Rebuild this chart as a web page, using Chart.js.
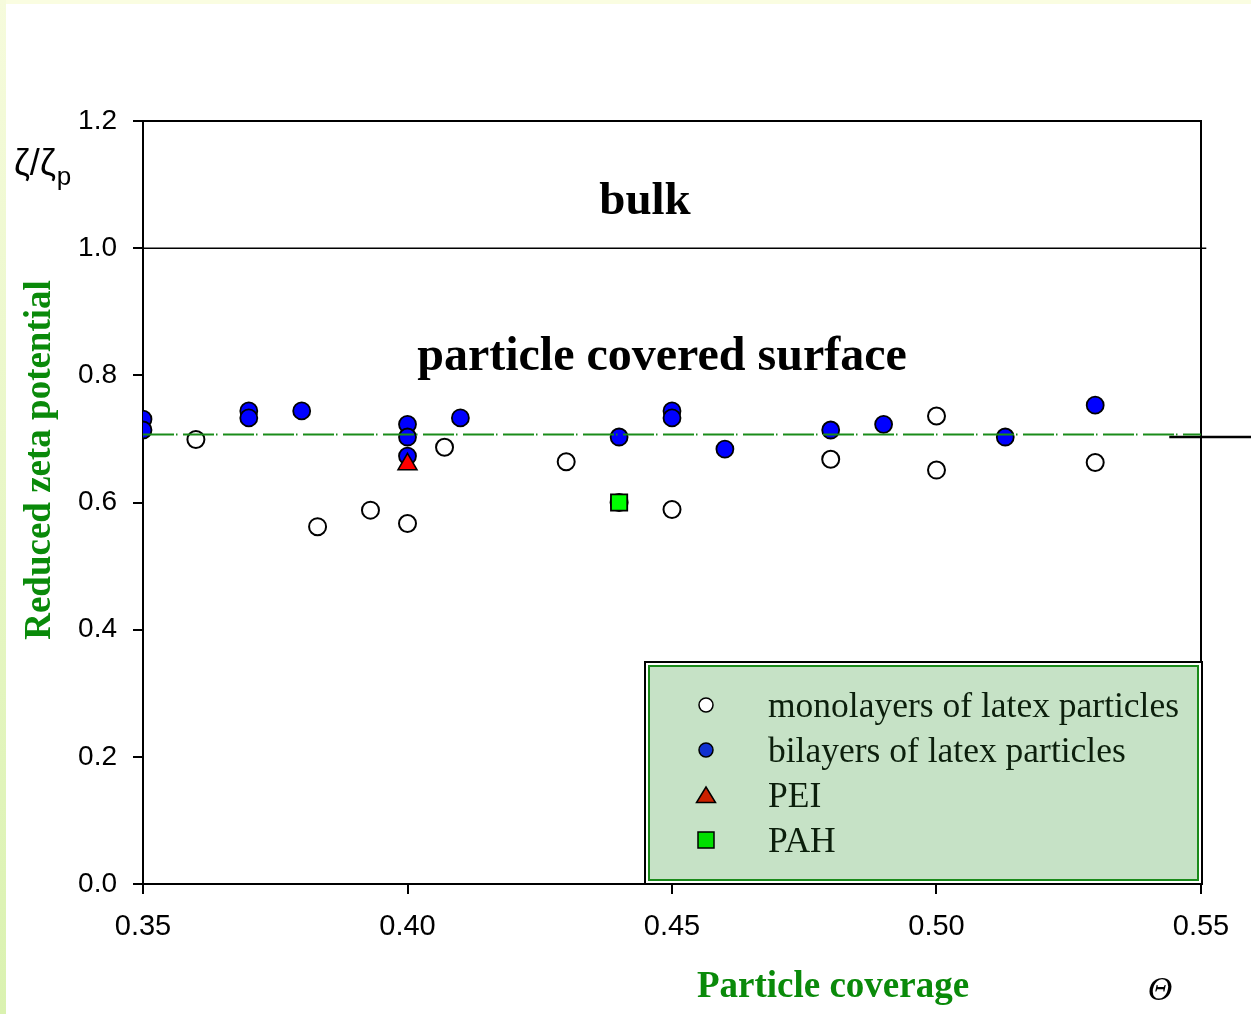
<!DOCTYPE html>
<html>
<head>
<meta charset="utf-8">
<title>Reduced zeta potential vs particle coverage</title>
<script src="https://cdn.jsdelivr.net/npm/chart.js@4/dist/chart.umd.min.js"></script>
<style>
  html, body { margin: 0; padding: 0; background: #ffffff; }
  #wrap { position: absolute; left: 0; top: 0; width: 1251px; height: 1014px; }
</style>
</head>
<body>
<div id="wrap"><canvas id="chart" width="1251" height="1014"></canvas></div>
<script>
// Monolayers of latex particles (open circles)
const monoX = [0.36, 0.383, 0.393, 0.40, 0.407, 0.43, 0.44, 0.45, 0.48, 0.50, 0.50, 0.53];
const monoY = [0.699, 0.562, 0.588, 0.567, 0.687, 0.664, 0.600, 0.589, 0.668, 0.736, 0.651, 0.663];

// Bilayers of latex particles (blue circles)
const biX = [0.35, 0.35, 0.37, 0.37, 0.38, 0.40, 0.40, 0.40, 0.41, 0.44, 0.45, 0.45, 0.46, 0.48, 0.49, 0.513, 0.53];
const biY = [0.731, 0.714, 0.744, 0.733, 0.744, 0.723, 0.703, 0.673, 0.733, 0.703, 0.744, 0.733, 0.684, 0.714, 0.723, 0.703, 0.753];

// Polyelectrolyte reference points
const peiX = [0.40];
const peiY = [0.66];
const pahX = [0.44];
const pahY = [0.60];

// Theoretical level for a particle covered surface, bulk level, and the edge marker
const refX = [0.35, 0.55];
const refY = [0.707, 0.707];
const bulkX = [0.35, 0.551];
const bulkY = [1.0, 1.0];
const edgeX = [0.544, 0.56];
const edgeY = [0.703, 0.703];

// Axis ticks
const xTicks = [0.35, 0.40, 0.45, 0.50, 0.55];
const xTickLabels = ['0.35', '0.40', '0.45', '0.50', '0.55'];
const yTicks = [0.0, 0.2, 0.4, 0.6, 0.8, 1.0, 1.2];
const yTickLabels = ['0.0', '0.2', '0.4', '0.6', '0.8', '1.0', '1.2'];

// Series labels
const seriesLabels = ['monolayers of latex particles', 'bilayers of latex particles', 'PEI', 'PAH'];

const zip = (xs, ys) => xs.map((x, i) => ({ x: x, y: ys[i] }));

const SERIF = '"Liberation Serif", "Times New Roman", serif';
const SANS = '"Liberation Sans", Arial, sans-serif';
const TITLE_GREEN = '#0a8a0a';

// Page background: pale strips along the top and left edges
const backgroundPlugin = {
  id: 'pageBackground',
  beforeDraw(chart) {
    const ctx = chart.ctx;
    const w = chart.width, h = chart.height;
    ctx.save();
    ctx.fillStyle = '#ffffff';
    ctx.fillRect(0, 0, w, h);
    ctx.fillStyle = '#fafde1';
    ctx.fillRect(0, 0, w, 4);
    const g = ctx.createLinearGradient(0, 0, 0, h);
    g.addColorStop(0, '#f6fbdc');
    g.addColorStop(1, '#daf2b0');
    ctx.fillStyle = g;
    ctx.fillRect(0, 0, 6, h);
    ctx.restore();
  }
};

// Top and right sides of the plot frame
const framePlugin = {
  id: 'plotFrame',
  beforeDatasetsDraw(chart) {
    const { ctx, chartArea: a } = chart;
    ctx.save();
    ctx.strokeStyle = '#000';
    ctx.lineWidth = 2;
    ctx.beginPath();
    ctx.moveTo(a.left, a.top);
    ctx.lineTo(a.right, a.top);
    ctx.lineTo(a.right, a.bottom);
    ctx.stroke();
    ctx.restore();
  }
};

// Region labels, axis titles and the symbol labels
const textPlugin = {
  id: 'chartTexts',
  afterDraw(chart) {
    const { ctx, chartArea: a } = chart;
    ctx.save();
    ctx.fillStyle = '#000';
    ctx.textAlign = 'center';
    ctx.textBaseline = 'alphabetic';
    ctx.font = 'bold 47px ' + SERIF;
    ctx.fillText('bulk', a.left + 502, a.top + 93);
    ctx.font = 'bold 48px ' + SERIF;
    ctx.fillText('particle covered surface', a.left + 519, a.top + 249);

    // y-axis title
    ctx.fillStyle = TITLE_GREEN;
    ctx.font = 'bold 37px ' + SERIF;
    ctx.save();
    ctx.translate(50, a.top + 339);
    ctx.rotate(-Math.PI / 2);
    ctx.fillText('Reduced zeta potential', 0, 0);
    ctx.restore();

    // x-axis title
    ctx.fillText('Particle coverage', a.left + 690, a.bottom + 113);

    // Θ symbol
    ctx.fillStyle = '#000';
    ctx.font = 'italic 34px ' + SERIF;
    ctx.fillText('\u0398', a.left + 1017, a.bottom + 116);

    // ζ/ζp
    ctx.textAlign = 'left';
    ctx.font = '36px ' + SANS;
    ctx.fillText('\u03B6/\u03B6', 14, a.top + 54);
    const w = ctx.measureText('\u03B6/\u03B6').width;
    ctx.font = '26px ' + SANS;
    ctx.fillText('p', 14 + w + 1, a.top + 64);
    ctx.restore();
  }
};

// Boxed legend in the lower right of the plot
const legendPlugin = {
  id: 'boxLegend',
  afterDraw(chart) {
    const { ctx, chartArea: a } = chart;
    const x0 = a.left + 502, y0 = a.top + 541;
    const x1 = a.right + 1, y1 = a.bottom;
    ctx.save();
    ctx.strokeStyle = '#000';
    ctx.lineWidth = 2;
    ctx.fillStyle = '#ffffff';
    ctx.fillRect(x0, y0, x1 - x0, y1 - y0);
    ctx.strokeRect(x0, y0, x1 - x0, y1 - y0);
    ctx.fillStyle = '#c6e2c6';
    ctx.fillRect(x0 + 4, y0 + 4, x1 - x0 - 8, y1 - y0 - 8);
    ctx.strokeStyle = '#1a8a1a';
    ctx.lineWidth = 2;
    ctx.strokeRect(x0 + 4, y0 + 4, x1 - x0 - 8, y1 - y0 - 8);

    const mx = x0 + 61, tx = x0 + 123;
    const rows = [y0 + 43, y0 + 88, y0 + 133, y0 + 178];
    ctx.lineWidth = 1.5;
    ctx.strokeStyle = '#000';
    // marker: open circle
    ctx.fillStyle = '#ffffff';
    ctx.beginPath(); ctx.arc(mx, rows[0], 7, 0, Math.PI * 2); ctx.fill(); ctx.stroke();
    // marker: blue circle
    ctx.fillStyle = '#1030d0';
    ctx.beginPath(); ctx.arc(mx, rows[1], 7, 0, Math.PI * 2); ctx.fill(); ctx.stroke();
    // marker: triangle
    ctx.fillStyle = '#cc2200';
    ctx.beginPath();
    ctx.moveTo(mx, rows[2] - 8);
    ctx.lineTo(mx + 9.5, rows[2] + 7.5);
    ctx.lineTo(mx - 9.5, rows[2] + 7.5);
    ctx.closePath(); ctx.fill(); ctx.stroke();
    // marker: square
    ctx.fillStyle = '#00e000';
    ctx.fillRect(mx - 8, rows[3] - 8, 16, 16);
    ctx.strokeRect(mx - 8, rows[3] - 8, 16, 16);

    ctx.fillStyle = '#0c1f0c';
    ctx.font = '35.5px ' + SERIF;
    ctx.textAlign = 'left';
    ctx.textBaseline = 'alphabetic';
    seriesLabels.forEach((t, i) => ctx.fillText(t, tx, rows[i] + 12));
    ctx.restore();
  }
};

const pointDefaults = { showLine: false, borderColor: '#000' };

new Chart(document.getElementById('chart'), {
  type: 'scatter',
  data: {
    datasets: [
      {
        label: 'reference', data: zip(refX, refY), showLine: true, pointRadius: 0,
        borderColor: '#1a8c1a', borderWidth: 2, borderDash: [31, 2, 1.5, 5.5], order: 0
      },
      {
        label: 'bulk level', data: zip(bulkX, bulkY), showLine: true, pointRadius: 0,
        borderColor: '#000', borderWidth: 1.5, clip: false, order: 0
      },
      {
        label: 'edge', data: zip(edgeX, edgeY), showLine: true, pointRadius: 0,
        borderColor: '#000', borderWidth: 2.5, clip: false, order: 0
      },
      Object.assign({
        label: seriesLabels[0], data: zip(monoX, monoY), pointStyle: 'circle',
        pointRadius: 8.5, pointBorderWidth: 2, backgroundColor: '#ffffff', order: 4
      }, pointDefaults),
      Object.assign({
        label: seriesLabels[1], data: zip(biX, biY), pointStyle: 'circle',
        pointRadius: 8.5, pointBorderWidth: 1.8, backgroundColor: '#0000ff', order: 3
      }, pointDefaults),
      Object.assign({
        label: seriesLabels[2], data: zip(peiX, peiY), pointStyle: 'triangle',
        pointRadius: 11, pointBorderWidth: 1.5, backgroundColor: '#ff0000', order: 2
      }, pointDefaults),
      Object.assign({
        label: seriesLabels[3], data: zip(pahX, pahY), pointStyle: 'rect',
        pointRadius: 11.5, pointBorderWidth: 1.8, backgroundColor: '#00ff00', order: 1
      }, pointDefaults)
    ]
  },
  options: {
    responsive: false,
    animation: false,
    devicePixelRatio: 1,
    layout: { padding: { left: 0, top: 121, right: 50, bottom: 0 } },
    plugins: { legend: { display: false }, tooltip: { enabled: false } },
    scales: {
      x: {
        type: 'linear', min: 0.35, max: 0.55,
        afterBuildTicks: (s) => { s.ticks = xTicks.map(v => ({ value: v })); },
        afterFit: (s) => { s.height = 130; },
        ticks: {
          callback: (v) => xTickLabels[xTicks.findIndex(t => Math.abs(t - v) < 1e-9)],
          font: { family: SANS, size: 29 }, color: '#000', padding: 16, maxRotation: 0
        },
        grid: { drawOnChartArea: false, drawTicks: true, tickLength: 10, color: '#000', lineWidth: 2 },
        border: { display: true, color: '#000', width: 2 }
      },
      y: {
        type: 'linear', min: 0, max: 1.2,
        afterBuildTicks: (s) => { s.ticks = yTicks.map(v => ({ value: v })); },
        afterFit: (s) => { s.width = 143; },
        ticks: {
          callback: (v) => yTickLabels[yTicks.findIndex(t => Math.abs(t - v) < 1e-9)],
          font: { family: SANS, size: 28 }, color: '#000', padding: 16
        },
        grid: { drawOnChartArea: false, drawTicks: true, tickLength: 10, color: '#000', lineWidth: 2 },
        border: { display: true, color: '#000', width: 2 }
      }
    }
  },
  plugins: [backgroundPlugin, framePlugin, textPlugin, legendPlugin]
});
</script>
</body>
</html>
